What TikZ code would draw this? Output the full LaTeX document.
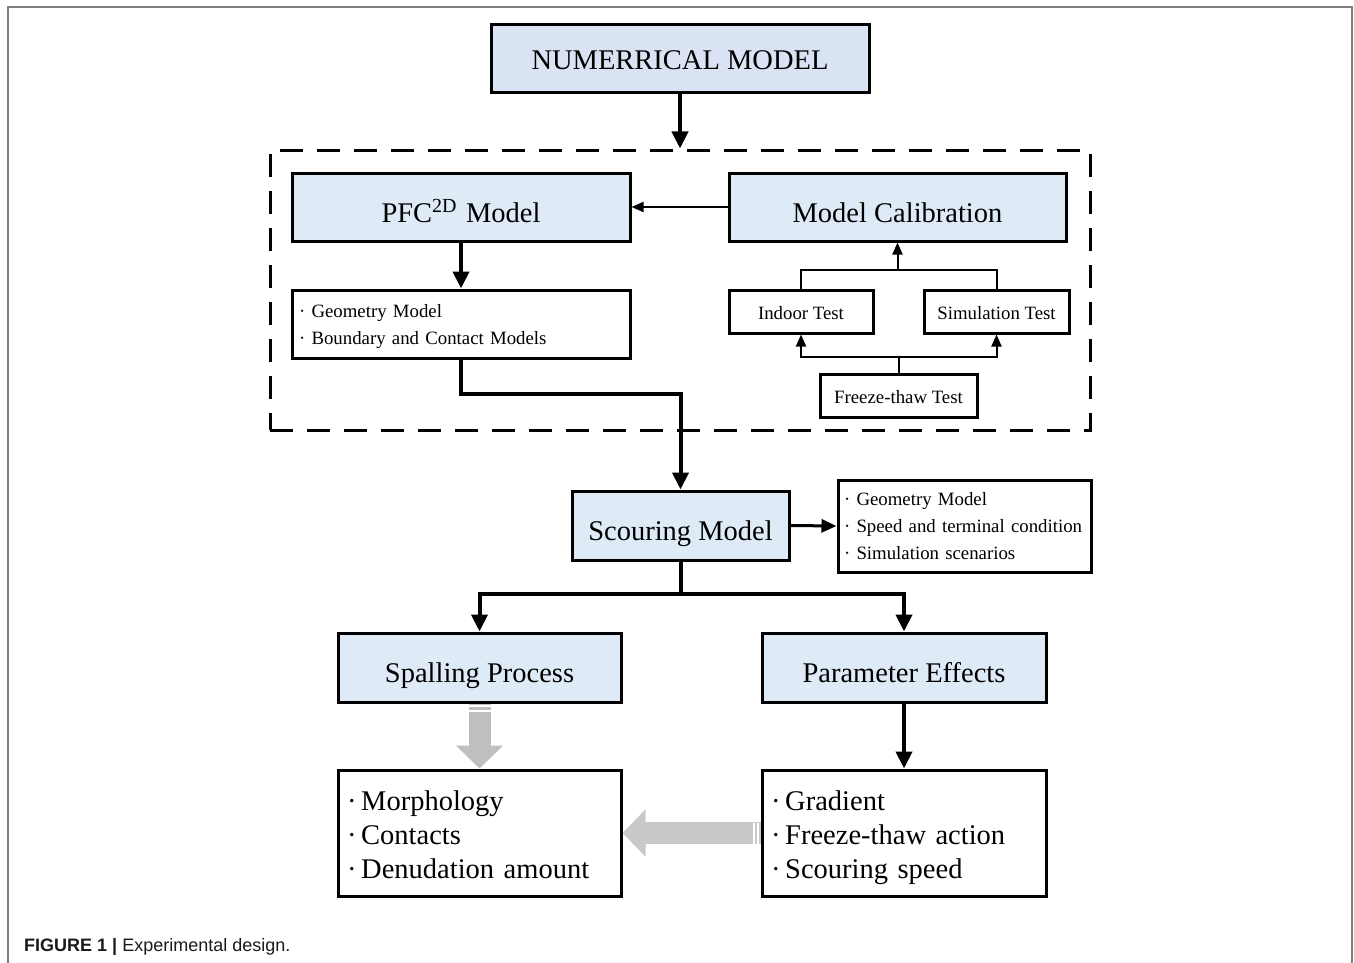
\documentclass[tikz,border=0pt]{standalone}
\usepackage{fontspec}
\setmainfont{Liberation Serif}
\setsansfont{Liberation Sans}
\usetikzlibrary{arrows.meta}
\definecolor{boxblue}{HTML}{DEEBF7}
\definecolor{topblue}{HTML}{DAE3F3}
\definecolor{arrgray}{HTML}{BFBFBF}
\definecolor{framegray}{HTML}{7F7F7F}
\definecolor{captext}{HTML}{1A1A1A}
\newcommand{\topstr}[1]{\rule{0pt}{#1}}
\newcommand{\botstr}[1]{\rule[-#1]{0pt}{#1}}
\tikzset{
  bigbox/.style={draw=black, line width=3pt, fill=boxblue, inner sep=0pt,
    font=\fontsize{28.5}{34}\selectfont, text height=30pt, text depth=0pt},
  whitebox/.style={draw=black, line width=3pt, fill=white, inner sep=0pt},
  smalltxt/.style={font=\fontsize{18.8}{27}\selectfont},
  onesmall/.style={text height=15pt, text depth=0pt},
  listtxt/.style={font=\fontsize{28.5}{34}\selectfont},
  conn/.style={line width=4pt, -{Triangle[length=17pt,width=16pt]}},
  midconn/.style={line width=3pt, -{Triangle[length=15pt,width=13pt]}},
  thinconn/.style={line width=2pt, -{Triangle[length=12pt,width=10pt]}},
  plainline/.style={line width=2pt},
  thickline/.style={line width=4pt},
  grayarrow/.style={draw=arrgray, line width=22pt, -{Triangle[length=23pt,width=46pt]}},
  stripe/.style={draw=white, line width=1.5pt},
  groupbox/.style={draw=black, line width=3pt, dash pattern=on 23pt off 14pt, inner sep=0pt},
}
\begin{document}
\begin{tikzpicture}[x=1pt,y=-1pt]
\useasboundingbox (0,0) rectangle (1354,963);
\fill[white] (0,0) rectangle (1354,963);
\draw[framegray, line width=2pt] (8,963) -- (8,7) -- (1352,7) -- (1352,963);

% group
\node[groupbox, minimum width=820pt, minimum height=280pt] (grp) at (680,290) {};

% nodes
\node[bigbox, fill=topblue, text height=22pt, minimum width=378pt, minimum height=68pt] (num) at (680,59) {NUMERRICAL MODEL};
\node[bigbox, minimum width=338pt, minimum height=68pt] (pfc) at (461,207) {PFC\textsuperscript{2D}\hspace{9pt}Model};
\node[bigbox, minimum width=337pt, minimum height=68pt] (cal) at (897.5,207) {Model Calibration};
\node[whitebox, smalltxt, minimum width=338pt, minimum height=68pt, text width=324pt, align=left, inner xsep=7pt] (geo) at (461,324) {\topstr{18pt}· Geometry Model\\· Boundary and Contact Models\botstr{5pt}};
\node[whitebox, smalltxt, onesmall, minimum width=144pt, minimum height=43pt] (indoor) at (801,311.5) {Indoor Test};
\node[whitebox, smalltxt, onesmall, minimum width=145pt, minimum height=43pt] (sim) at (996.5,311.5) {Simulation Test};
\node[whitebox, smalltxt, onesmall, minimum width=157pt, minimum height=43pt] (freeze) at (898.5,395.5) {Freeze-thaw Test};
\node[bigbox, minimum width=217pt, minimum height=69pt] (scour) at (680.5,525.5) {Scouring Model};
\node[whitebox, smalltxt, minimum width=253pt, minimum height=92pt, text width=241pt, align=left, inner xsep=6pt] (slist) at (964.5,526) {\topstr{18pt}· Geometry Model\\· Speed and terminal condition\\· Simulation scenarios\botstr{6pt}};
\node[bigbox, minimum width=283pt, minimum height=69pt] (spall) at (479.5,667.5) {Spalling Process};
\node[bigbox, minimum width=284pt, minimum height=69pt] (param) at (904,667.5) {Parameter Effects};
\node[whitebox, listtxt, minimum width=283pt, minimum height=126pt, text width=265pt, align=left, inner xsep=9pt] (morph) at (479.5,833) {\topstr{29pt}·\,Morphology\\·\,Contacts\\·\,Denudation amount\botstr{7pt}};
\node[whitebox, listtxt, minimum width=284pt, minimum height=126pt, text width=266pt, align=left, inner xsep=9pt] (grad) at (904,833) {\topstr{29pt}·\,Gradient\\·\,Freeze-thaw action\\·\,Scouring speed\botstr{7pt}};

% connectors
\draw[conn] (num.south) -- (grp.north);
\draw[thinconn] (cal.west) -- (pfc.east);
\draw[conn] (pfc.south) -- (geo.north);
\coordinate (j1) at (897.5,270);
\coordinate (j2) at (898.5,357);
\draw[plainline] (indoor.north) -- (indoor.north |- j1) -- (sim.north |- j1) -- (sim.north);
\draw[thinconn] (j1) -- (cal.south);
\draw[plainline] (freeze.north) -- (j2);
\draw[thinconn] (j2) -| (indoor.south);
\draw[thinconn] (j2) -| (sim.south);
\draw[conn] (geo.south) -- ++(0,34) -| (scour.north);
\draw[midconn] (scour.east) -- (slist.west);
\coordinate (j3) at (680.5,594);
\draw[thickline] (scour.south) -- (j3);
\draw[conn] (j3) -| (spall.north);
\draw[conn] (j3) -| (param.north);
\draw[conn] (param.south) -- (grad.north);

% gray arrows
\draw[grayarrow] (spall.south) -- (morph.north);
\draw[stripe] (469,706) -- (491,706);
\draw[stripe] (469,711) -- (491,711);
\draw[grayarrow, draw=arrgray!85] (grad.west) -- (morph.east);
\draw[stripe] (754,823) -- (754,844);
\draw[stripe] (758,823) -- (758,844);

% caption
\node[anchor=base west, inner sep=0pt, text=captext, font=\sffamily\fontsize{18}{21}\selectfont] (cap) at (24,951) {\textbf{FIGURE 1 |} Experimental design.};
\end{tikzpicture}
\end{document}
